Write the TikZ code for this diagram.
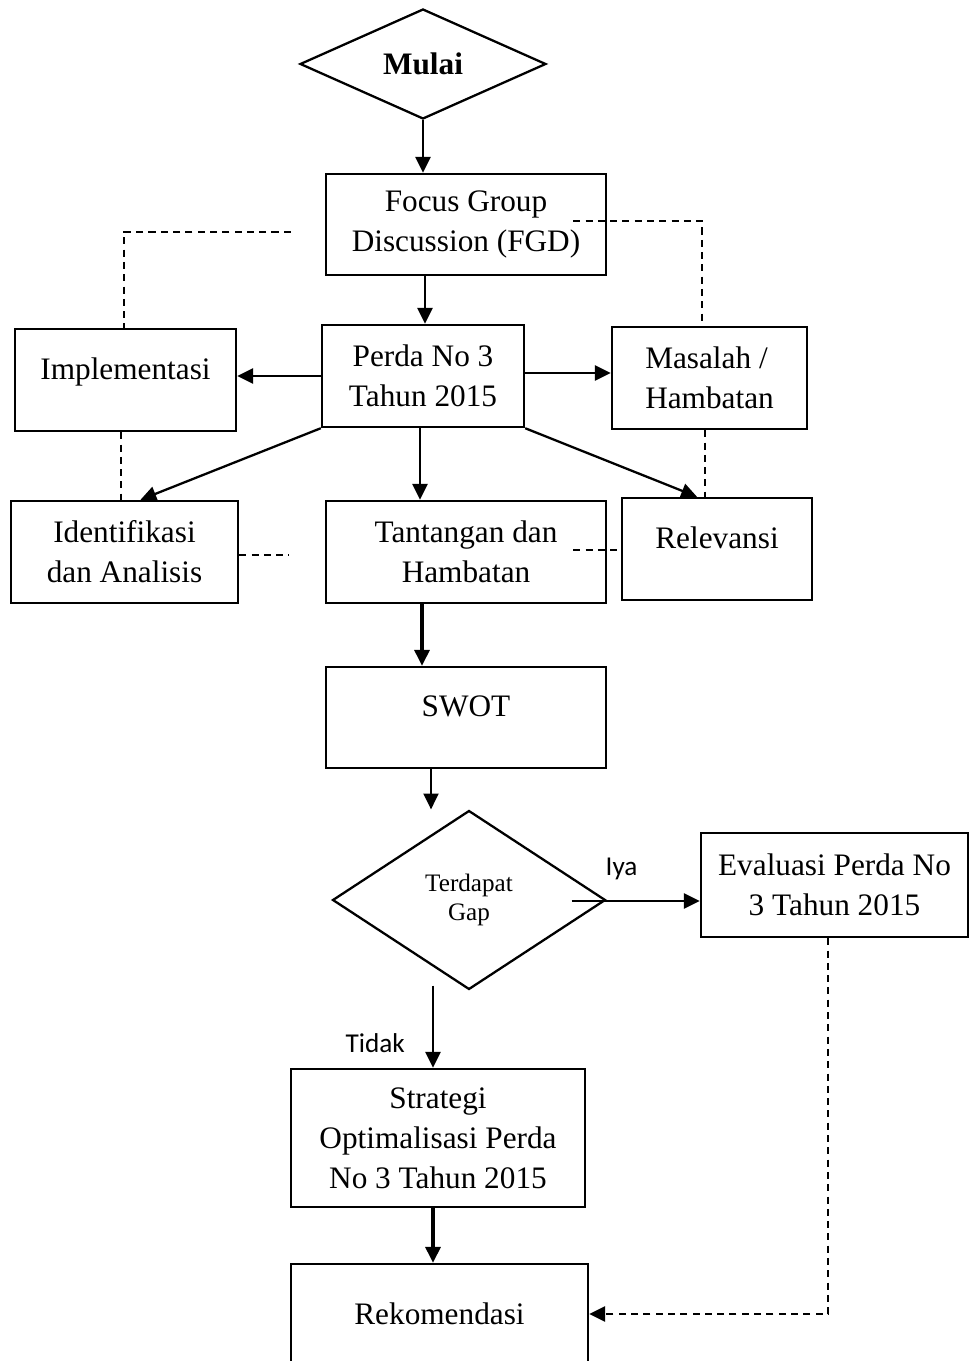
\documentclass[tikz,border=0pt]{standalone}
\usepackage{fontspec}
\setmainfont{Liberation Serif}
\newfontfamily\labelfont{Carlito}
\usetikzlibrary{shapes.geometric,arrows.meta,calc}

\begin{document}
\begin{tikzpicture}[x=0.02cm,y=-0.02cm,
  font=\fontsize{17.8}{22.7}\selectfont,
  box/.style={draw,line width=1.4pt,align=center,inner sep=0pt,minimum height=2.04cm},
  decision/.style={draw,diamond,line width=1.3pt,align=center,inner sep=0pt,aspect=1.6},
  onetext/.style={text depth=13pt},
  flow/.style={line width=1.3pt,-{Triangle[length=9pt,width=8.5pt]}},
  heavyflow/.style={flow,line width=1.8pt},
  link/.style={line width=1.5pt,dash pattern=on 4pt off 3pt},
  answer/.style={font=\labelfont\fontsize{15.5}{18}\selectfont,inner sep=0pt}]
  \useasboundingbox (0,0) rectangle (969,1361);
  \node [decision,minimum width=4.92cm,minimum height=2.2cm,font=\bfseries\fontsize{17.8}{22.7}\selectfont] (mulai) at (423,64) {Mulai};
  \node [box,minimum width=5.6cm,minimum height=2.02cm] (fgd) at (466,224.5) {Focus Group\\Discussion (FGD)};
  \node [box,minimum width=4.04cm] (perda) at (423,376) {Perda No 3\\Tahun 2015};
  \node [box,onetext,minimum width=4.42cm] (impl) at (125.5,380) {Implementasi};
  \node [box,align=left,minimum width=3.9cm] (masalah) at (709.5,378) {Masalah /\\Hambatan};
  \node [box,minimum width=4.54cm] (ident) at (124.5,552) {Identifikasi\\dan Analisis};
  \node [box,minimum width=5.6cm] (tant) at (466,552) {Tantangan dan\\Hambatan};
  \node [box,onetext,minimum width=3.8cm] (relev) at (717,549) {Relevansi};
  \node [box,onetext,minimum width=5.6cm,minimum height=2.02cm] (swot) at (466,717.5) {SWOT};
  \node [decision,minimum width=5.46cm,minimum height=3.58cm,font=\fontsize{14.3}{17}\selectfont] (gap) at (469,900) {Terdapat\\Gap};
  \node [box,minimum width=5.34cm,minimum height=2.08cm] (eval) at (834.5,885) {Evaluasi Perda No\\3 Tahun 2015};
  \node [box,minimum width=5.88cm,minimum height=2.76cm] (strat) at (438,1138) {Strategi\\Optimalisasi Perda\\No 3 Tahun 2015};
  \node [box,minimum width=5.94cm,minimum height=2cm] (rekom) at (439.5,1314) {Rekomendasi};

  \draw [flow] (mulai.south) -- (mulai.south |- fgd.north);
  \draw [flow] ($(fgd.south)+(-41,0)$) -- ($(perda.north)+(2,0)$);
  \draw [flow] (perda.west) -- (perda.west -| impl.east);
  \draw [flow] ($(perda.east)+(0,-3)$) -- ($(masalah.west)+(0,-5)$);
  \draw [flow] (perda.south west) -- ($(ident.north)+(16,0)$);
  \draw [flow] (perda.south east) -- ($(relev.north)+(-20,0)$);
  \draw [flow] ($(perda.south)+(-3,0)$) -- ($(tant.north)+(-46,0)$);
  \draw [heavyflow] ($(tant.south)+(-44,0)$) -- ($(swot.north)+(-44,0)$);
  \draw [flow] ($(swot.south)+(-35,0)$) -- ($(gap.north)+(-38,0)$);
  \draw [flow] ($(gap.east)+(-35,1)$) -- node [answer,pos=0.39,above=0.4cm] (iya) {Iya} ($(eval.west)+(0,16)$);
  \draw [flow] ($(gap.south)+(-36,-5)$) -- node [answer,pos=0.7,left=0.54cm] (tidak) {Tidak} ($(strat.north)+(-5,0)$);
  \draw [heavyflow] ($(strat.south)+(-5,0)$) -- ($(rekom.north)+(-6.5,0)$);
  \draw [link,-{Triangle[length=9pt,width=8.5pt]}] ($(eval.south)+(-6.5,0)$) |- (rekom.east);

  \draw [link] ($(fgd.west)+(-34,7.5)$) -| ($(impl.north)+(-1.5,0)$);
  \draw [link] ($(fgd.east)+(-34,-3.5)$) -| ($(masalah.north)+(-7.5,0)$);
  \draw [link] ($(impl.south)+(-4.5,0)$) -- ($(ident.north)+(-3.5,0)$);
  \draw [link] ($(ident.east)+(0,3)$) -- ($(tant.west)+(-36,3)$);
  \draw [link] ($(masalah.south)+(-4.5,0)$) -- ($(relev.north)+(-12,0)$);
  \draw [link] ($(tant.east)+(-34,-2)$) -- ($(relev.west)+(0,1)$);
\end{tikzpicture}
\end{document}
